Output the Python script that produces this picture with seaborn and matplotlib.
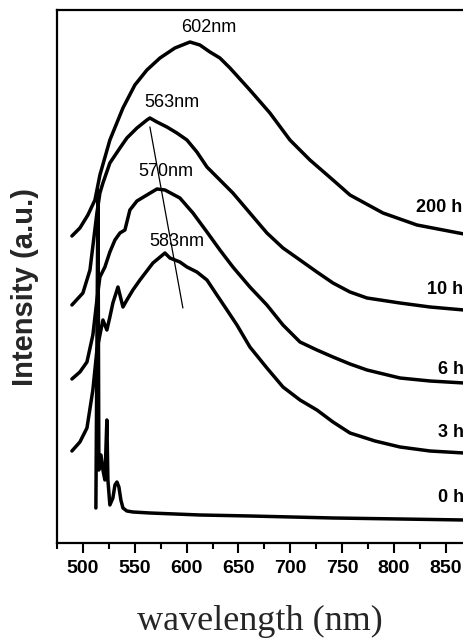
import matplotlib
matplotlib.use("Agg")
import matplotlib.pyplot as plt
import seaborn as sns
import pandas as pd
from matplotlib.ticker import MultipleLocator

# ---------------- data ----------------
wl_200h = [489.4, 497.1, 504.8, 511.6, 516.4, 526.0, 538.6, 550.1, 561.7, 574.3, 588.7, 603.2,
           612.8, 622.5, 632.1, 641.8, 661.0, 680.3, 699.6, 718.9, 741.1, 757.5, 789.3, 822.1, 867.4, 880.0]
int_200h = [307, 315, 328, 343, 368, 403, 435, 458, 473, 485, 495, 501,
            498, 491, 485, 475, 453, 430, 403, 383, 363, 348, 330, 318, 309, 308]

wl_10h = [489.4, 500.0, 506.8, 513.5, 516.4, 519.3, 526.0, 535.7, 542.4, 552.1, 561.7, 564.6,
          571.4, 581.0, 590.6, 600.3, 609.9, 619.6, 632.1, 644.6, 661.0, 677.4, 692.9, 709.3,
          725.6, 741.1, 757.5, 773.9, 805.7, 834.6, 867.4, 880.0]
int_10h = [238, 250, 273, 330, 350, 360, 380, 395, 405, 415, 423, 425,
           421, 416, 410, 403, 391, 376, 363, 350, 330, 310, 295, 283,
           271, 260, 251, 245, 240, 236, 233, 233]

wl_6h = [489.4, 497.1, 503.9, 509.6, 513.5, 516.4, 521.2, 526.0, 530.9, 535.7, 540.5, 545.3,
         552.1, 561.7, 571.4, 579.1, 593.5, 606.1, 619.6, 632.1, 644.6, 661.0, 677.4, 692.9,
         709.3, 725.6, 741.1, 757.5, 773.9, 805.7, 834.6, 867.4, 880.0]
int_6h = [164, 171, 181, 208, 243, 266, 276, 291, 303, 310, 313, 333,
          342, 348, 354, 353, 345, 330, 311, 293, 276, 256, 238, 218,
          201, 193, 186, 179, 173, 165, 162, 160, 160]

wl_3h = [489.4, 497.1, 503.9, 509.6, 513.5, 519.3, 523.1, 526.0, 528.9, 533.8, 538.6,
         542.4, 548.2, 555.0, 567.5, 579.1, 583.9, 593.5, 600.3, 609.9, 619.6, 629.2, 638.9,
         648.5, 661.0, 677.4, 692.9, 709.3, 725.6, 741.1, 757.5, 781.6, 805.7, 834.6, 867.4, 880.0]
int_3h = [92, 101, 115, 153, 193, 223, 213, 226, 240, 256, 236,
          243, 253, 263, 280, 290, 285, 281, 276, 271, 263, 248, 233,
          218, 196, 175, 156, 143, 133, 121, 110, 102, 96, 92, 90, 90]

wl_0h = [512.5, 514.5, 515.4, 517.4, 519.3, 521.2, 523.1, 524.1, 526.0, 528.9, 530.9, 532.8,
         534.7, 536.6, 538.6, 542.4, 548.2, 564.6, 612.8, 661.0, 741.1, 805.7, 867.4, 880.0]
int_0h = [35, 353, 73, 88, 73, 63, 123, 63, 38, 45, 58, 61,
          56, 43, 35, 32, 31, 30, 28, 27, 25, 24, 23, 23]

series_names = ["200 h", "10 h", "6 h", "3 h", "0 h"]
series_wl = [wl_200h, wl_10h, wl_6h, wl_3h, wl_0h]
series_int = [int_200h, int_10h, int_6h, int_3h, int_0h]
label_pos = [(821.0, 335), (832.0, 253), (842.0, 173), (842.0, 110), (842.0, 45)]

peak_labels = ["602nm", "563nm", "570nm", "583nm"]
peak_label_pos = [(621.5, 515), (585.8, 440), (580.0, 371), (590.6, 301)]
trend_wl = [564.6, 596.4]
trend_int = [416, 235]

xticks = [500, 550, 600, 650, 700, 750, 800, 850]

# ---------------- plot ----------------
sns.set_theme(style="ticks")
plt.rcParams["font.family"] = ["Liberation Sans", "DejaVu Sans"]

fig = plt.figure(figsize=(4.64, 6.41), dpi=100)
ax = fig.add_axes([0.1228, 0.1529, 0.950, 0.8315])

frames = []
for name, w, v in zip(series_names, series_wl, series_int):
    frames.append(pd.DataFrame({"wavelength": w, "intensity": v, "time": name}))
df = pd.concat(frames, ignore_index=True)

sns.lineplot(data=df, x="wavelength", y="intensity", units="time", estimator=None,
             color="black", linewidth=2.5, sort=False, ax=ax, legend=False)
sns.lineplot(x=trend_wl, y=trend_int, color="black", linewidth=0.9, ax=ax, legend=False)

for name, (x, y) in zip(series_names, label_pos):
    ax.text(x, y, name, fontsize=13, fontweight="bold", ha="left", va="center", color="black")
for txt, (x, y) in zip(peak_labels, peak_label_pos):
    ax.text(x, y, txt, fontsize=13, ha="center", va="center", color="black")

ax.set_xlim(475, 900)
ax.set_ylim(0, 533)
ax.set_xticks(xticks)
ax.xaxis.set_minor_locator(MultipleLocator(25))
ax.set_yticks([])
ax.set_xlabel("")
ax.set_ylabel("")
for lab in ax.get_xticklabels():
    lab.set_fontweight("bold")
ax.tick_params(axis="x", which="major", direction="out", length=7, width=1.5,
               labelsize=14, pad=5, colors="black")
ax.tick_params(axis="x", which="minor", direction="out", length=4, width=1.5, colors="black")
for sp in ax.spines.values():
    sp.set_visible(True)
    sp.set_linewidth(1.6)
    sp.set_color("black")

fig.text(0.054, 1 - 287 / 641, "Intensity (a.u.)", rotation=90, ha="center", va="center",
         fontsize=21, fontweight="bold")
fig.text(0.56, 1 - 621 / 641, "wavelength (nm)", ha="center", va="center",
         fontsize=26, family=["Liberation Serif", "DejaVu Serif"])

fig.savefig("out.png", dpi=100)
